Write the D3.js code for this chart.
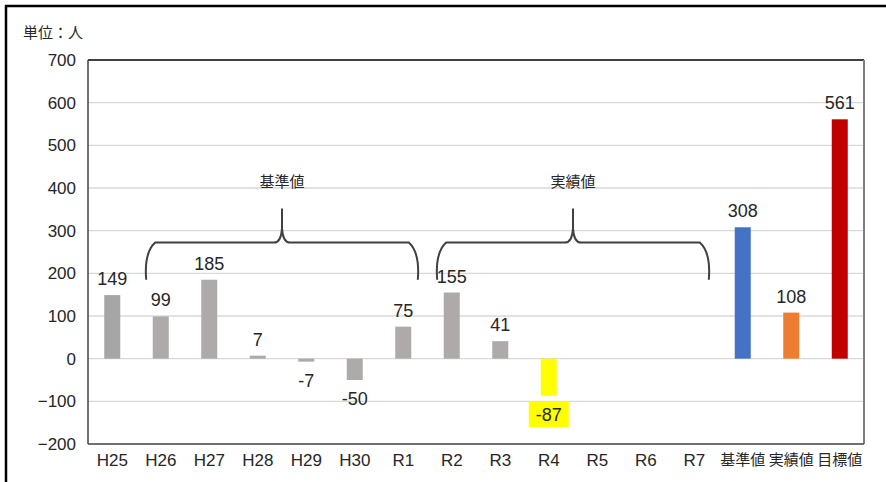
<!DOCTYPE html>
<html><head><meta charset="utf-8">
<script src="https://cdn.jsdelivr.net/npm/d3@7"></script>
<style>
html,body{margin:0;padding:0;background:#fff;}
svg{display:block;}
</style></head>
<body>
<script>
// ---- data ----
const categories = ["H25","H26","H27","H28","H29","H30","R1","R2","R3","R4","R5","R6","R7","基準値","実績値","目標値"];
const values = [149,99,185,7,-7,-50,75,155,41,-87,null,null,null,308,108,561];
const yTicks = [-200,-100,0,100,200,300,400,500,600,700];
const braceGroups = [
  {label:"基準値", from:"H26", to:"R1"},
  {label:"実績値", from:"R2", to:"R7"}
];
const unitLabel = "単位：人";

// ---- styles ----
const barColors = ["#A6A6A6","#AEAAAA","#AEAAAA","#AEAAAA","#AEAAAA","#AEAAAA","#AEAAAA","#AEAAAA","#AEAAAA","#FFFF00","#AEAAAA","#AEAAAA","#AEAAAA","#4472C4","#ED7D31","#C00000"];
const highlight = "R4";

const W = 886, H = 482;
const m = {left:88, right:886-864, top:60, bottom:482-444};
const svg = d3.select("body").append("svg").attr("width",W).attr("height",H);

const x = d3.scaleBand().domain(categories).range([m.left, W-m.right]).paddingInner(0.67).paddingOuter(0.335);
const xb = d3.scaleBand().domain(categories).range([m.left, W-m.right]);
const y = d3.scaleLinear().domain([-200,700]).range([H-m.bottom, m.top]);

const numFont = "'Liberation Sans', Arial, sans-serif";
const jpFont = "'Noto Sans CJK JP', sans-serif";
const textCol = "#262626";

// outer frame
svg.append("line").attr("x1",5).attr("x2",W).attr("y1",6).attr("y2",6).attr("stroke","#000").attr("stroke-width",2.5);
svg.append("line").attr("x1",6).attr("x2",6).attr("y1",5).attr("y2",H).attr("stroke","#000").attr("stroke-width",2.5);

// grid
svg.append("g").selectAll("line").data(yTicks.filter(t=>t>-200 && t<700)).join("line")
  .attr("x1",m.left).attr("x2",W-m.right).attr("y1",d=>y(d)).attr("y2",d=>y(d))
  .attr("stroke","#D9D9D9").attr("stroke-width",1.3);

// y axis labels
const yAxis = d3.axisLeft(y).tickValues(yTicks).tickSize(0).tickPadding(12).tickFormat(d3.format("d"));
const ya = svg.append("g").attr("transform",`translate(${m.left},0)`).call(yAxis);
ya.select(".domain").remove();
ya.selectAll("text").attr("font-family",numFont).attr("font-size",17).attr("fill",textCol);

// x axis labels
const xAxis = d3.axisBottom(xb).tickSize(0).tickPadding(10);
const xa = svg.append("g").attr("transform",`translate(0,${H-m.bottom})`).call(xAxis);
xa.select(".domain").remove();
xa.selectAll("text").attr("font-size",d=>/^[HR]/.test(d)?17:15)
  .attr("font-family",d=>/^[HR]/.test(d)?numFont:jpFont).attr("fill",textCol);

// bars
const data = categories.map((c,i)=>({c, v:values[i], col:barColors[i]})).filter(d=>d.v!==null);
svg.append("g").selectAll("rect").data(data).join("rect")
  .attr("x",d=>x(d.c)).attr("width",x.bandwidth())
  .attr("y",d=>y(Math.max(0,d.v))).attr("height",d=>Math.abs(y(d.v)-y(0)))
  .attr("fill",d=>d.col);

// plot frame
svg.append("line").attr("x1",m.left).attr("x2",W-m.right).attr("y1",m.top).attr("y2",m.top).attr("stroke","#000").attr("stroke-width",1.5);
svg.append("line").attr("x1",W-m.right).attr("x2",W-m.right).attr("y1",m.top).attr("y2",H-m.bottom).attr("stroke","#7F7F7F").attr("stroke-width",2);
svg.append("line").attr("x1",m.left).attr("x2",m.left).attr("y1",m.top).attr("y2",H-m.bottom).attr("stroke","#404040").attr("stroke-width",1.5);
svg.append("line").attr("x1",m.left).attr("x2",W-m.right).attr("y1",H-m.bottom).attr("y2",H-m.bottom).attr("stroke","#404040").attr("stroke-width",1.5);

// data labels
const lg = svg.append("g");
data.forEach(d=>{
  const cx = x(d.c)+x.bandwidth()/2;
  const ty = d.v>=0 ? y(d.v)-10 : y(d.v)+25;
  if (d.c===highlight){
    lg.append("rect").attr("x",cx-20).attr("y",ty-19.5).attr("width",40).attr("height",26).attr("fill","#FFFF00");
  }
  lg.append("text").attr("x",cx).attr("y",ty).attr("text-anchor","middle")
    .attr("font-family",numFont).attr("font-size",18).attr("fill",textCol).text(d.v);
});

// braces
const bg = svg.append("g");
braceGroups.forEach(g=>{
  const i0 = categories.indexOf(g.from), i1 = categories.indexOf(g.to);
  const step = xb.step();
  const left = xb(categories[i0]), right = xb(categories[i1]) + step;
  const x0 = left + 0.2*step, x1 = right - 0.2*step, xm = (left+right)/2;
  const yEnd = y(185), yH = y(272), yTip = y(352);
  const r = 9;
  const p = d3.path();
  p.moveTo(x0, yEnd);
  p.bezierCurveTo(x0-1, yEnd-12, x0-1, yH+r, x0+r, yH);
  p.lineTo(xm-8, yH);
  p.quadraticCurveTo(xm-1, yH, xm, yH-14);
  p.lineTo(xm, yTip);
  p.moveTo(xm, yH-14);
  p.quadraticCurveTo(xm+1, yH, xm+8, yH);
  p.lineTo(x1-r, yH);
  p.bezierCurveTo(x1+1, yH+r, x1+1, yEnd-12, x1, yEnd);
  bg.append("path").attr("d",p.toString()).attr("fill","none").attr("stroke","#404040").attr("stroke-width",2);
  bg.append("text").attr("x",xm).attr("y",y(415)+5).attr("text-anchor","middle")
    .attr("font-family",jpFont).attr("font-size",15).attr("fill",textCol).text(g.label);
});

// unit label
svg.append("text").attr("x",23).attr("y",38).attr("font-family",jpFont).attr("font-size",15).attr("fill",textCol).text(unitLabel);
</script>
</body></html>
